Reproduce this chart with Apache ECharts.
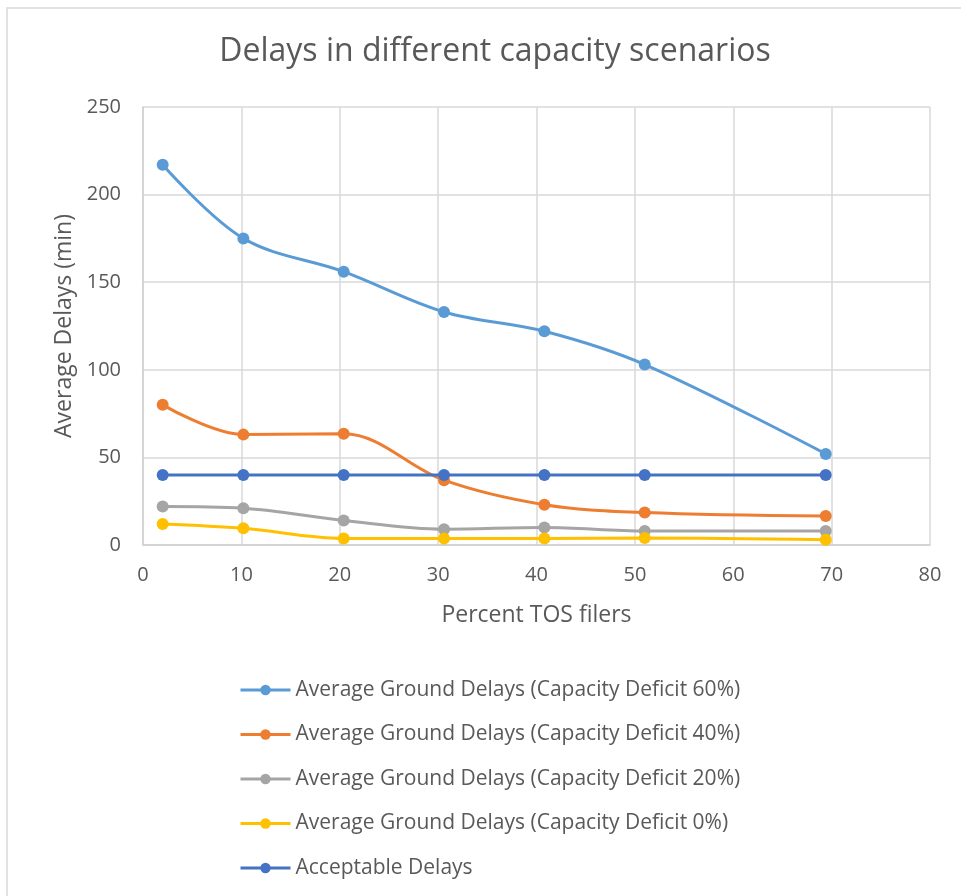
<!DOCTYPE html>
<html>
<head>
<meta charset="utf-8">
<script src="https://cdn.jsdelivr.net/npm/echarts@6/dist/echarts.min.js"></script>
<style>
  html, body { margin: 0; padding: 0; background: #fff; }
  #chart { width: 961px; height: 896px; }
</style>
</head>
<body>
<div id="chart"></div>
<script>
// percent of TOS filers (x) for each run
var tosPercent = [2, 10.2, 20.4, 30.6, 40.8, 51, 69.4];

var deficit60 = [217, 175, 156, 133, 122, 103, 52];
var deficit40 = [80, 63, 63.5, 37, 23, 18.5, 16.5];
var deficit20 = [22, 21, 14, 9, 10, 8, 8];
var deficit0 = [12, 9.5, 3.7, 3.7, 3.7, 4, 3];
var acceptable = [40, 40, 40, 40, 40, 40, 40];

var seriesNames = [
  "Average Ground Delays (Capacity Deficit 60%)",
  "Average Ground Delays (Capacity Deficit 40%)",
  "Average Ground Delays (Capacity Deficit 20%)",
  "Average Ground Delays (Capacity Deficit 0%)",
  "Acceptable Delays"
];
var seriesColors = ["#5B9BD5", "#ED7D31", "#A5A5A5", "#FFC000", "#4472C4"];

function pairs(ys) {
  return ys.map(function (y, i) {
    return [tosPercent[i], y];
  });
}

var allValues = [deficit60, deficit40, deficit20, deficit0, acceptable];
var textColor = "#595959";
var font = "Open Sans";

var series = allValues.map(function (vals, i) {
  return {
    name: seriesNames[i],
    type: "line",
    smooth: i === 4 ? false : 0.35,
    symbol: "circle",
    symbolSize: 12,
    lineStyle: { width: 3, color: seriesColors[i] },
    itemStyle: { color: seriesColors[i] },
    data: pairs(vals),
    z: i === 4 ? 3 : 2
  };
});

var myChart = echarts.init(document.getElementById("chart"));
var option = {
  animation: false,
  backgroundColor: "#fff",
  color: seriesColors,
  graphic: [
    {
      type: "rect",
      shape: { x: 7, y: 8, width: 1000, height: 950 },
      style: { fill: "none", stroke: "#d9d9d9", lineWidth: 1.5 },
      silent: true
    }
  ],
  title: {
    text: "Delays in different capacity scenarios",
    left: 490,
    textAlign: "center",
    top: 31,
    textStyle: { fontFamily: font, fontSize: 32, fontWeight: "normal", color: textColor }
  },
  grid: { left: 143, top: 107, right: 31, bottom: 351 },
  xAxis: {
    type: "value",
    min: 0,
    max: 80,
    interval: 10,
    name: "Percent TOS filers",
    nameLocation: "middle",
    nameGap: 59,
    nameTextStyle: { fontFamily: font, fontSize: 23, color: textColor },
    axisLine: { show: true, lineStyle: { color: "#d0d0d0", width: 1.5 } },
    axisTick: { show: false },
    axisLabel: { fontFamily: font, fontSize: 20, color: textColor, margin: 20 },
    splitLine: { show: true, lineStyle: { color: "#d9d9d9", width: 1.5 } }
  },
  yAxis: {
    type: "value",
    min: 0,
    max: 250,
    interval: 50,
    name: "Average Delays (min)",
    nameLocation: "middle",
    nameGap: 64,
    nameTextStyle: { fontFamily: font, fontSize: 23, color: textColor },
    axisLine: { show: true, lineStyle: { color: "#d0d0d0", width: 1.5 } },
    axisTick: { show: false },
    axisLabel: { fontFamily: font, fontSize: 20, color: textColor, margin: 22 },
    splitLine: { show: true, lineStyle: { color: "#d9d9d9", width: 1.5 } }
  },
  legend: {
    orient: "vertical",
    left: 234,
    top: 673,
    itemWidth: 50,
    itemHeight: 13,
    itemGap: 20.5,
    lineStyle: { width: 3 },
    textStyle: { fontFamily: font, fontSize: 21, color: textColor, lineHeight: 24 },
    data: seriesNames
  },
  series: series
};
myChart.setOption(option);
</script>
</body>
</html>
